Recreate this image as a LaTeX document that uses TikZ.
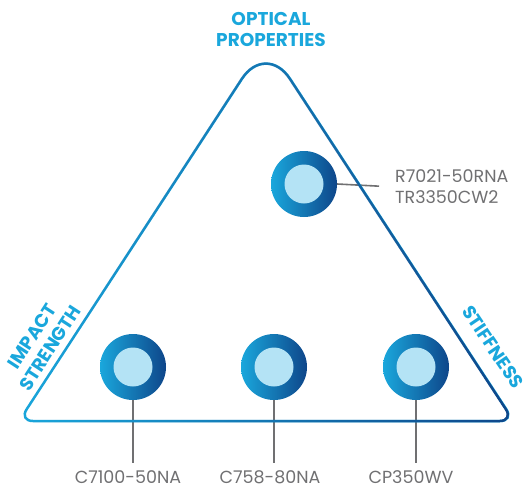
\documentclass[tikz,border=0pt]{standalone}
\usepackage{fontspec}
\setmainfont{Poppins}
\usetikzlibrary{fadings}

\definecolor{skyblue}{RGB}{26,167,220}
\definecolor{deepblue}{RGB}{14,70,138}
\definecolor{paleblue}{RGB}{180,227,245}
\definecolor{leadgray}{RGB}{112,112,114}

\tikzfading[name=fadein east, left color=transparent!100, right color=transparent!0]

\tikzset{
	disc/.style={circle, minimum size=66pt, inner sep=0pt,
		left color=skyblue, right color=deepblue,
		path picture={\fill[paleblue] (path picture bounding box.center) circle (19.5pt);}},
	lead/.style={draw=leadgray, line width=1.6pt},
	grade/.style={text=leadgray, font=\fontsize{17.5}{21}\selectfont, inner sep=0pt},
	prop/.style={text=skyblue, font=\fontsize{18.5}{21.5}\selectfont\bfseries,
		align=center, inner sep=0pt},
}

\begin{document}
\begin{tikzpicture}[x=1pt, y=-1pt]
	\useasboundingbox (0,0) rectangle (525,488);

	\def \edge {(266,421) [rounded corners=14pt] -- (514,421)
		[rounded corners=44pt] -- (266,42)
		[rounded corners=14pt] -- (19,421) -- cycle}

	% grades
	\node[disc] (left)   at (133,367) {};
	\node[disc] (middle) at (274,367) {};
	\node[disc] (right)  at (416,367) {};
	\node[disc] (top)    at (304,184) {};

	\node[grade] (leftname)   at (128,477) {C7100-50NA};
	\node[grade] (middlename) at (270,477) {C758-80NA};
	\node[grade] (rightname)  at (411,477) {CP350WV};
	\node[grade, anchor=west, align=left] (topname) at (395,187)
		{R7021-50RNA\\TR3350CW2};

	\draw[lead] (left.south)   -- ([yshift=7pt]left.south |- leftname.north);
	\draw[lead] (middle.south) -- ([yshift=7pt]middle.south |- middlename.north);
	\draw[lead] (right.south)  -- ([yshift=7pt]right.south |- rightname.north);
	\draw[lead, shorten >=16pt] (top.east) -- (topname.west);

	% triangle
	\draw[skyblue, line width=2.5pt] \edge;
	\draw[deepblue, line width=2.5pt, path fading=fadein east] \edge;

	% properties
	\node[prop] (optical) at (271,29.5) {OPTICAL\\PROPERTIES};
	\node[prop, rotate=57] (impact) at (41,342) {IMPACT\\STRENGTH};
	\node[prop, rotate=-56] (stiffness) at (493,347) {STIFFNESS};
\end{tikzpicture}
\end{document}
